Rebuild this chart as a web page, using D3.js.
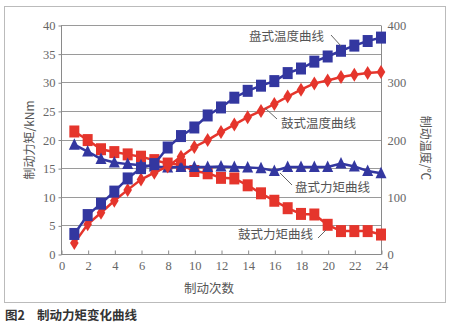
<!DOCTYPE html>
<html>
<head>
<meta charset="utf-8">
<script src="https://cdn.jsdelivr.net/npm/d3@7"></script>
<style>
  html, body { margin: 0; padding: 0; background: #fff; }
  svg { display: block; }
</style>
</head>
<body>
<svg id="chart" width="450" height="324"></svg>
<script>
// Braking cycles 1..24
const cycles = d3.range(1, 25);

// Temperatures (°C), right axis
const diskTemp = [35, 68, 88, 109, 132, 150, 157, 186, 206, 221, 242, 256, 273, 285, 294, 302, 316, 324, 336, 345, 355, 364, 372, 378];
const drumTemp = [19, 52, 72, 93, 112, 130, 142, 153, 170, 187, 199, 213, 226, 239, 250, 262, 275, 287, 298, 303, 309, 313, 316, 318];

// Braking torque (kNm), left axis
const diskTorque = [19.1, 17.9, 16.6, 16.0, 15.7, 15.5, 15.3, 15.1, 15.2, 15.2, 15.2, 15.3, 15.2, 15.1, 15.0, 14.5, 15.2, 15.2, 15.2, 15.2, 15.8, 15.3, 14.5, 14.1];
const drumTorque = [21.4, 19.9, 18.3, 17.8, 17.4, 17.0, 16.4, 15.8, 15.6, 14.5, 14.1, 13.3, 13.2, 12.0, 10.6, 9.3, 8.0, 7.0, 6.9, 5.1, 4.0, 4.0, 4.0, 3.4];

const xTicks = d3.range(0, 25, 2);
const leftTicks = d3.range(0, 41, 5);
const rightTicks = [0, 100, 200, 300, 400];

const BLUE = "#3337a0";
const RED = "#e5352c";
const TEXT = "#555";
const SERIF = "'Liberation Serif','DejaVu Serif',serif";
const CJK = "'Noto Sans CJK SC','Noto Sans',sans-serif";

const svg = d3.select("#chart");

// outer frame
svg.append("rect").attr("x", 4.5).attr("y", 6.5).attr("width", 441).attr("height", 296)
  .attr("fill", "#fff").attr("stroke", "#bbb").attr("stroke-width", 1);

const x = d3.scaleLinear().domain([0, 24]).range([61, 381]);
const yL = d3.scaleLinear().domain([0, 40]).range([254, 25]);
const yR = d3.scaleLinear().domain([0, 400]).range([254, 25]);

// horizontal grid
svg.append("g").selectAll("line").data(leftTicks).join("line")
  .attr("x1", x(0)).attr("x2", x(24))
  .attr("y1", d => Math.round(yL(d)) + 0.5).attr("y2", d => Math.round(yL(d)) + 0.5)
  .attr("stroke", "#9a9a9a").attr("stroke-width", 1);

// left axis
const gL = svg.append("g").attr("transform", `translate(${x(0) + 0.5},0.5)`)
  .call(d3.axisLeft(yL).tickValues(leftTicks).tickSize(3).tickPadding(3));
// right axis
const gR = svg.append("g").attr("transform", `translate(${x(24) + 0.5},0.5)`)
  .call(d3.axisRight(yR).tickValues(rightTicks).tickSize(0).tickPadding(6));
// bottom axis
const gB = svg.append("g").attr("transform", `translate(0.5,${yL(0) + 0.5})`)
  .call(d3.axisBottom(x).tickValues(xTicks).tickSize(-4).tickPadding(7));

[gL, gR, gB].forEach(g => {
  g.select(".domain").attr("stroke", "#8a8a8a");
  g.selectAll(".tick line").attr("stroke", "#8a8a8a");
  g.selectAll("text").attr("font-family", SERIF).attr("font-size", 12.5).attr("fill", "#666");
});
gL.select(".domain").attr("d", `M0,${yL(40)}V${yL(0)}`);
gR.select(".domain").attr("d", `M0,${yR(400)}V${yR(0)}`);
gB.select(".domain").attr("d", `M${x(0)},0H${x(24)}`);

// series lines
function drawLine(values, yScale, color) {
  const line = d3.line().x((d, i) => x(cycles[i])).y(d => yScale(d));
  svg.append("path").datum(values).attr("d", line)
    .attr("fill", "none").attr("stroke", color).attr("stroke-width", 2.5);
}
function drawMarkers(values, yScale, color, shape) {
  const g = svg.append("g");
  g.selectAll("path").data(values).join("path")
    .attr("transform", (d, i) => `translate(${x(cycles[i])},${yScale(d)})`)
    .attr("d", shape).attr("fill", color);
}
const squarePath = "M-5,-6H5V6H-5Z";
const diamondPath = "M0,-7L4.3,0L0,7L-4.3,0Z";
const trianglePath = "M0,-6.5L5.5,5H-5.5Z";

drawLine(drumTorque, yL, RED);
drawMarkers(drumTorque, yL, RED, squarePath);
drawLine(diskTorque, yL, BLUE);
drawMarkers(diskTorque, yL, BLUE, trianglePath);
drawLine(drumTemp, yR, RED);
drawMarkers(drumTemp, yR, RED, diamondPath);
drawLine(diskTemp, yR, BLUE);
drawMarkers(diskTemp, yR, BLUE, squarePath);

// series annotations with leader lines
const notes = [
  { text: "盘式温度曲线", tx: 249, ty: 41, l: [331, 35, 341, 46] },
  { text: "鼓式温度曲线", tx: 281, ty: 128, l: [265, 108, 277, 119] },
  { text: "盘式力矩曲线", tx: 295, ty: 192, l: [280, 173, 292, 185] },
  { text: "鼓式力矩曲线", tx: 238, ty: 239, l: [318, 238, 326, 230] }
];
notes.forEach(n => {
  svg.append("line").attr("x1", n.l[0]).attr("y1", n.l[1]).attr("x2", n.l[2]).attr("y2", n.l[3])
    .attr("stroke", "#666").attr("stroke-width", 1);
  svg.append("text").attr("x", n.tx).attr("y", n.ty).text(n.text)
    .attr("font-family", CJK).attr("font-size", 12.5).attr("fill", TEXT);
});

// axis titles
svg.append("text").attr("transform", `translate(34,${140}) rotate(-90)`)
  .attr("text-anchor", "middle").text("制动力矩/kNm")
  .attr("font-family", CJK).attr("font-size", 12).attr("fill", TEXT);
svg.append("text").attr("transform", `translate(421,${148}) rotate(90)`)
  .attr("text-anchor", "middle").text("制动温度/℃")
  .attr("font-family", CJK).attr("font-size", 12).attr("fill", TEXT);
svg.append("text").attr("x", 209).attr("y", 293).attr("text-anchor", "middle").text("制动次数")
  .attr("font-family", CJK).attr("font-size", 12.5).attr("fill", TEXT);

// caption
svg.append("text").attr("x", 5).attr("y", 320).text("图2")
  .attr("font-family", CJK).attr("font-size", 12.5).attr("font-weight", "bold").attr("fill", "#333");
svg.append("text").attr("x", 37).attr("y", 320).text("制动力矩变化曲线")
  .attr("font-family", CJK).attr("font-size", 12.5).attr("font-weight", "bold").attr("fill", "#333");
</script>
</body>
</html>
